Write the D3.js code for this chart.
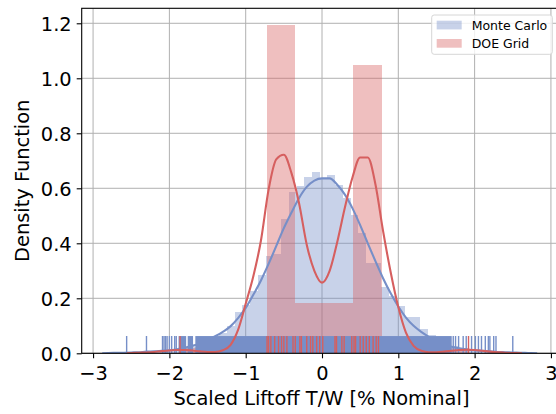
<!DOCTYPE html>
<html>
<head>
<meta charset="utf-8">
<script src="https://cdn.jsdelivr.net/npm/d3@7"></script>
<style>
  html, body { margin: 0; padding: 0; background: #fff; }
  svg { display: block; font-family: "DejaVu Sans", sans-serif; }
</style>
</head>
<body>
<svg id="chart" width="556" height="414"></svg>
<script>
// ---- data ----
const xTicks = [-3, -2, -1, 0, 1, 2, 3];
const yTicks = [0.0, 0.2, 0.4, 0.6, 0.8, 1.0, 1.2];

// Monte Carlo histogram: 50 equal bins over the sample range, density values
const mcRange = [-2.56, 2.50];
const mcDensity = [
  0.002, 0.001, 0.003, 0.005, 0.006, 0.009, 0.013, 0.019, 0.024, 0.031,
  0.040, 0.055, 0.073, 0.100, 0.151, 0.175, 0.225, 0.285, 0.355, 0.362,
  0.487, 0.588, 0.608, 0.640, 0.660, 0.632, 0.648, 0.612, 0.565, 0.503,
  0.436, 0.327, 0.327, 0.242, 0.210, 0.172, 0.133, 0.133, 0.088, 0.068,
  0.050, 0.037, 0.027, 0.019, 0.014, 0.010, 0.007, 0.004, 0.002, 0.001
];

// DOE grid histogram: 10 equal bins over the sample range, density values
const doeRange = [-1.86, 1.92];
const doeDensity = [0.018, 0, 0, 1.194, 0.184, 0.184, 1.047, 0, 0, 0.018];

// kernel density estimates [x, density]
const mcKde = [
  [-2.88,0.000],[-2.8,0.001],[-2.7,0.0015],[-2.6,0.002],[-2.5,0.003],[-2.4,0.004],
  [-2.3,0.006],[-2.2,0.007],[-2.1,0.009],[-2.0,0.011],[-1.9,0.015],[-1.8,0.020],
  [-1.7,0.027],[-1.6,0.036],[-1.5,0.048],[-1.4,0.062],[-1.3,0.078],[-1.2,0.098],
  [-1.1,0.128],[-1.0,0.165],[-0.9,0.213],[-0.8,0.265],[-0.7,0.325],[-0.6,0.390],
  [-0.5,0.455],[-0.4,0.512],[-0.3,0.565],[-0.2,0.605],[-0.1,0.628],[0.0,0.636],
  [0.1,0.636],[0.2,0.613],[0.3,0.577],[0.4,0.527],[0.5,0.466],[0.6,0.400],
  [0.7,0.335],[0.8,0.273],[0.9,0.218],[1.0,0.170],[1.1,0.130],[1.2,0.100],
  [1.3,0.078],[1.4,0.060],[1.5,0.045],[1.6,0.033],[1.7,0.024],[1.8,0.018],
  [1.9,0.014],[2.0,0.011],[2.1,0.009],[2.2,0.007],[2.3,0.005],[2.4,0.004],
  [2.5,0.003],[2.6,0.002],[2.7,0.001],[2.82,0.000]
];
const doeKde = [
  [-2.56,0.000],[-2.5,0.001],[-2.4,0.002],[-2.3,0.003],[-2.2,0.005],[-2.1,0.008],
  [-2.0,0.010],[-1.9,0.012],[-1.8,0.012],[-1.7,0.010],[-1.6,0.007],[-1.5,0.005],
  [-1.4,0.005],[-1.3,0.011],[-1.2,0.030],[-1.1,0.085],[-1.0,0.180],[-0.9,0.280],
  [-0.8,0.410],[-0.7,0.595],[-0.6,0.705],[-0.5,0.722],[-0.4,0.655],[-0.3,0.545],
  [-0.2,0.395],[-0.1,0.300],[0.0,0.257],[0.1,0.300],[0.2,0.405],[0.3,0.530],
  [0.4,0.640],[0.5,0.712],[0.6,0.712],[0.7,0.615],[0.8,0.445],[0.9,0.295],
  [1.0,0.168],[1.1,0.075],[1.2,0.027],[1.3,0.009],[1.4,0.004],[1.5,0.004],
  [1.6,0.006],[1.7,0.009],[1.8,0.012],[1.9,0.013],[2.0,0.012],[2.1,0.009],
  [2.2,0.006],[2.3,0.004],[2.4,0.002],[2.5,0.001],[2.62,0.000]
];

// rug: individual Monte Carlo samples in the tails, plus spans where samples are packed solid
const mcRugSingles = [-2.56, -2.30, -2.09, -2.07, -2.05, -2.03, -2.00, -1.97, -1.93, -1.91,
  1.72, 1.75, 1.79, 1.85, 1.89, 1.96, 2.01, 2.05, 2.09, 2.14, 2.18, 2.20, 2.25, 2.28, 2.50];
const mcRugSpans = [[-1.88, -1.78], [-1.76, -1.69], [-1.66, 1.70]];
const doeRug = [-1.86, -0.72, -0.70, -0.67, -0.62, -0.57, -0.53, -0.50, -0.46, -0.38, -0.35,
  -0.29, -0.27, -0.20, -0.15, -0.12, -0.07, -0.03, 0.01, 0.17, 0.19, 0.26, 0.29,
  0.39, 0.42, 0.44, 0.50, 0.54, 0.58, 0.62, 0.67, 0.71, 0.74, 1.92];

const seriesNames = ["Monte Carlo", "DOE Grid"];

// ---- layout ----
const blue = "#768fc8";
const red = "#d65f5f";
const svg = d3.select("#chart");
const plot = { left: 81.7, right: 562.3, top: 8.3, bottom: 353.3 };

const x = d3.scaleLinear().domain([-3.149, 3.149]).range([plot.left, plot.right]);
const y = d3.scaleLinear().domain([0, 1.2545]).range([plot.bottom, plot.top]);

svg.append("defs").append("clipPath").attr("id", "clip")
  .append("rect").attr("x", plot.left).attr("y", plot.top)
  .attr("width", plot.right - plot.left).attr("height", plot.bottom - plot.top);

// grid
const grid = svg.append("g").attr("stroke", "#b0b0b0").attr("stroke-width", 1);
grid.selectAll("line.gx").data(xTicks).join("line")
  .attr("x1", d => x(d)).attr("x2", d => x(d))
  .attr("y1", plot.top).attr("y2", plot.bottom);
grid.selectAll("line.gy").data(yTicks).join("line")
  .attr("x1", plot.left).attr("x2", plot.right)
  .attr("y1", d => y(d)).attr("y2", d => y(d));

const body = svg.append("g").attr("clip-path", "url(#clip)");

function binsOf(range, dens) {
  const w = (range[1] - range[0]) / dens.length;
  return dens.map((v, i) => ({ x0: range[0] + i * w, x1: range[0] + (i + 1) * w, v }));
}

function drawHist(range, dens, color) {
  body.append("g").selectAll("rect").data(binsOf(range, dens).filter(b => b.v > 0)).join("rect")
    .attr("x", b => x(b.x0)).attr("width", b => x(b.x1) - x(b.x0))
    .attr("y", b => y(b.v)).attr("height", b => y(0) - y(b.v))
    .attr("fill", color).attr("fill-opacity", 0.4)
    .attr("shape-rendering", "crispEdges");
}
drawHist(mcRange, mcDensity, blue);
drawHist(doeRange, doeDensity, red);

const line = d3.line().x(d => x(d[0])).y(d => y(d[1])).curve(d3.curveMonotoneX);
const rugH = (plot.bottom - plot.top) * 0.05;

function drawKde(data, color) {
  body.append("path").datum(data).attr("d", line)
    .attr("fill", "none").attr("stroke", color).attr("stroke-width", 2.1)
    .attr("stroke-linejoin", "round");
}
function drawRug(vals, color) {
  body.append("g").selectAll("line").data(vals).join("line")
    .attr("x1", d => x(d)).attr("x2", d => x(d))
    .attr("y1", plot.bottom).attr("y2", plot.bottom - rugH)
    .attr("stroke", color).attr("stroke-width", 1.4);
}

drawKde(mcKde, blue);
body.append("g").selectAll("rect").data(mcRugSpans).join("rect")
  .attr("x", d => x(d[0])).attr("width", d => x(d[1]) - x(d[0]))
  .attr("y", plot.bottom - rugH).attr("height", rugH).attr("fill", blue);
drawRug(mcRugSingles, blue);
drawKde(doeKde, red);
drawRug(doeRug, red);

// frame
svg.append("rect").attr("x", plot.left).attr("y", plot.top)
  .attr("width", plot.right - plot.left).attr("height", plot.bottom - plot.top)
  .attr("fill", "none").attr("stroke", "#000").attr("stroke-width", 1.1);

// axes
const xAxis = svg.append("g").attr("transform", `translate(0,${plot.bottom})`)
  .call(d3.axisBottom(x).tickValues(xTicks).tickSize(5).tickPadding(5)
    .tickFormat(d => d < 0 ? "\u2212" + Math.abs(d) : String(d)));
const yAxis = svg.append("g").attr("transform", `translate(${plot.left},0)`)
  .call(d3.axisLeft(y).tickValues(yTicks).tickSize(5).tickPadding(5).tickFormat(d3.format(".1f")));
[xAxis, yAxis].forEach(g => {
  g.select(".domain").remove();
  g.selectAll(".tick line").attr("stroke", "#000").attr("stroke-width", 1.1);
  g.selectAll(".tick text").attr("fill", "#000").attr("font-size", 19.4)
    .attr("font-family", "DejaVu Sans");
});
xAxis.selectAll(".tick text").attr("dy", null).attr("y", 26.5);
yAxis.selectAll(".tick text").attr("dy", "0.35em");

svg.append("text").attr("x", (plot.left + plot.right) / 2 - 0.5).attr("y", 405)
  .attr("text-anchor", "middle").attr("font-size", 19.4).text("Scaled Liftoff T/W [% Nominal]");
svg.append("text").attr("transform", `translate(29,${(plot.top + plot.bottom) / 2}) rotate(-90)`)
  .attr("text-anchor", "middle").attr("font-size", 19.4).text("Density Function");

// legend
const lg = svg.append("g");
lg.append("rect").attr("x", 431.7).attr("y", 15).attr("width", 120.6).attr("height", 39.3)
  .attr("rx", 2.5).attr("fill", "#fff").attr("fill-opacity", 0.8)
  .attr("stroke", "#d6d6d6").attr("stroke-width", 1);
const legendColors = [blue, red];
seriesNames.forEach((name, i) => {
  const ly = 20.7 + i * 18.3;
  lg.append("rect").attr("x", 436.7).attr("y", ly).attr("width", 25).attr("height", 8.7)
    .attr("fill", legendColors[i]).attr("fill-opacity", 0.4);
  lg.append("text").attr("x", 471.7).attr("y", ly + 9.3).attr("font-size", 12.5)
    .attr("fill", "#000").text(name);
});
</script>
</body>
</html>
